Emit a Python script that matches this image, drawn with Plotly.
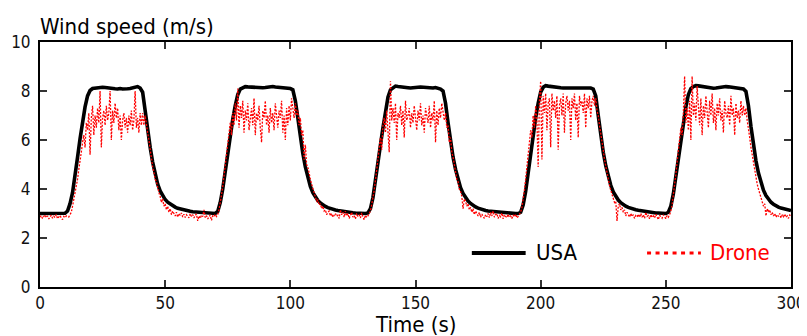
import numpy as np
import plotly.graph_objects as go

# ---------------- data ----------------
# USA anemometer, 1 s resolution, t = 0 .. 300 s
usa_c1 = [3.00, 3.00, 3.00, 3.00, 3.00, 3.00, 3.00, 3.00, 3.00, 3.00, 3.01,
          3.10, 3.40, 3.85, 4.50, 5.30, 6.05, 6.75, 7.35, 7.80, 8.02, 8.10,
          8.12, 8.14, 8.13, 8.15, 8.14, 8.12, 8.13, 8.10, 8.09, 8.08, 8.10, 8.08, 8.07, 8.09, 8.10, 8.12, 8.16, 8.18, 8.12,
          7.95, 7.20, 6.40, 5.70, 5.10, 4.60, 4.20, 3.92, 3.72, 3.57, 3.46, 3.38, 3.31, 3.26, 3.21, 3.18, 3.15, 3.13, 3.11]
usa_c2 = [3.09, 3.07, 3.06, 3.05, 3.04, 3.03, 3.02, 3.02, 3.01, 3.01, 3.00,
          3.08, 3.45, 4.00, 4.75, 5.50, 6.20, 6.85, 7.40, 7.85, 8.08, 8.15,
          8.18, 8.17, 8.16, 8.15, 8.14, 8.16, 8.15, 8.13, 8.14, 8.16, 8.17, 8.18, 8.16, 8.15, 8.17, 8.14, 8.13, 8.12, 8.10, 8.05,
          7.60, 6.90, 6.10, 5.45, 4.90, 4.45, 4.10, 3.85, 3.67, 3.53, 3.43, 3.35, 3.29, 3.24, 3.20, 3.17, 3.14, 3.12]
usa_c3 = [3.10, 3.08, 3.06, 3.05, 3.04, 3.03, 3.02, 3.01, 3.00, 3.00, 3.00,
          3.02, 3.20, 3.65, 4.30, 5.10, 5.80, 6.50, 7.20, 7.75, 8.05, 8.15,
          8.20, 8.18, 8.16, 8.15, 8.14, 8.13, 8.12, 8.12, 8.14, 8.15, 8.16, 8.15, 8.13, 8.12, 8.11, 8.12, 8.14, 8.12, 8.08, 8.00,
          7.50, 6.70, 5.95, 5.30, 4.80, 4.38, 4.05, 3.82, 3.64, 3.51, 3.41, 3.33, 3.27, 3.22, 3.18, 3.15, 3.12, 3.10]
usa_c4 = [3.09, 3.07, 3.05, 3.04, 3.03, 3.02, 3.01, 3.01, 3.00, 3.00, 3.00,
          3.00, 3.05, 3.35, 3.90, 4.65, 5.45, 6.20, 6.90, 7.50, 7.95, 8.15,
          8.22, 8.20, 8.18, 8.17, 8.15, 8.14, 8.13, 8.12, 8.12, 8.13, 8.14, 8.13, 8.12, 8.12, 8.13, 8.14, 8.15, 8.14, 8.12, 8.08,
          7.80, 7.00, 6.20, 5.50, 4.95, 4.50, 4.15, 3.88, 3.69, 3.55, 3.44, 3.36, 3.30, 3.25, 3.21, 3.18, 3.15, 3.13]
usa_c5 = [3.11, 3.09, 3.07, 3.05, 3.04, 3.03, 3.02, 3.02, 3.01, 3.01, 3.00,
          3.05, 3.30, 3.80, 4.50, 5.30, 6.05, 6.75, 7.35, 7.85, 8.10, 8.18,
          8.22, 8.21, 8.19, 8.17, 8.15, 8.13, 8.12, 8.11, 8.12, 8.14, 8.16, 8.17, 8.18, 8.17, 8.16, 8.15, 8.14, 8.13, 8.12, 8.08, 7.98,
          7.40, 6.55, 5.80, 5.15, 4.65, 4.25, 3.95, 3.73, 3.57, 3.46, 3.38, 3.31, 3.26, 3.22, 3.19, 3.16, 3.14, 3.12]

# Drone, 0.5 s resolution, t = 0 .. 300 s
drone_c1 = [2.85, 2.92, 2.80, 2.88, 2.95, 2.83, 2.90, 2.78, 2.86, 2.93, 2.81, 2.89, 2.84, 2.96, 2.79, 2.87, 2.92, 2.82, 2.75, 2.88, 2.83, 2.90,
            2.90, 2.86, 2.98, 3.05, 3.30, 3.55, 3.80, 4.10, 4.40, 4.80, 5.10, 5.50, 5.90, 6.20, 5.70, 6.70,
            6.4, 7.1, 5.4, 6.9, 7.4, 6.2, 7.0, 6.5, 7.3, 6.7, 8.0, 5.7, 6.9, 7.2, 6.6, 7.4, 6.8, 7.1, 8.0, 6.0,
            7.2, 6.7, 7.5, 6.9, 7.3, 6.4, 7.0, 6.0, 6.8, 7.1, 6.5, 6.9, 6.3, 7.0, 6.6, 7.2, 6.4, 6.8, 8.0, 6.5,
            6.9, 6.3, 7.1, 6.6,
            7.1, 6.6, 7.0, 6.5, 6.3, 6.0, 5.6, 5.3, 4.9, 4.7, 4.4, 4.3, 4.0, 3.85, 3.7, 3.45, 3.6, 3.3, 3.4, 3.15,
            3.3, 3.05, 3.2, 2.95, 3.1, 3.0, 2.9, 3.05, 2.85, 3.0, 2.92, 3.02, 2.86, 2.97, 2.84, 2.95, 2.88, 2.82]
drone_c2 = [3.00, 2.88, 2.95, 2.82, 2.92, 2.98, 2.70, 2.90, 2.80, 2.93, 2.87, 3.15, 2.83, 2.91, 2.78, 2.89, 2.94, 2.72, 2.90, 2.86, 2.97, 2.88,
            2.95, 3.15, 3.40, 3.75, 4.10, 4.50, 4.90, 5.40, 5.80, 6.30, 6.70, 6.20, 7.10, 6.60, 7.50, 6.80,
            8.1, 6.5, 7.4, 6.9, 7.6, 6.3, 7.2, 6.8, 7.5, 6.4, 7.0, 7.3, 6.6, 7.7, 6.2, 7.1, 6.8, 7.4, 6.5, 5.9,
            7.2, 6.9, 7.6, 6.6, 7.0, 6.3, 7.3, 6.7, 7.1, 6.4, 7.5, 6.8, 6.5, 7.2, 6.9, 7.6, 6.3, 7.0, 6.0, 7.3,
            6.6, 7.4, 6.8, 7.7,
            7.3, 6.9, 7.5, 7.0, 7.2, 6.6, 6.9, 6.2, 6.4, 5.2, 5.8, 5.0, 4.9, 4.6, 4.4, 4.2, 4.0, 3.8, 3.7, 3.5,
            3.55, 3.35, 3.4, 3.2, 3.3, 3.1, 3.15, 2.95, 3.05, 3.1, 2.9, 3.0, 2.85, 2.95, 3.0, 2.88, 2.93, 2.8]
drone_c3 = [3.15, 2.95, 3.05, 2.85, 3.10, 2.90, 3.00, 2.80, 2.95, 3.05, 2.85, 2.92, 2.78, 3.00, 2.88, 2.95, 2.82, 3.02, 2.86, 2.75, 2.93, 2.84,
            2.90, 2.98, 3.10, 3.35, 3.60, 3.95, 4.35, 4.80, 5.25, 5.70, 6.10, 5.60, 6.60, 6.90, 6.30, 7.20,
            6.5, 5.5, 8.4, 6.8, 7.3, 6.7, 7.5, 6.0, 7.1, 6.9, 7.4, 6.6, 7.2, 6.1, 7.6, 6.8, 7.0, 7.3, 6.5, 7.1,
            6.7, 7.4, 6.9, 6.4, 7.2, 6.8, 7.5, 6.6, 7.0, 6.3, 7.3, 6.9, 6.7, 7.4, 6.5, 7.1, 6.8, 7.6, 5.9, 7.2,
            6.6, 7.3, 6.9, 7.5,
            7.2, 6.8, 7.1, 6.5, 6.6, 5.9, 6.1, 5.5, 5.3, 4.9, 4.7, 4.4, 4.3, 4.0, 3.9, 3.7, 3.2, 3.6, 3.5, 3.3,
            3.4, 3.15, 3.25, 3.05, 3.2, 2.95, 3.1, 3.0, 2.9, 3.05, 2.85, 2.98, 2.9, 2.8, 2.95, 2.87, 3.0, 2.83]
drone_c4 = [3.05, 2.90, 3.10, 2.85, 2.95, 3.00, 2.80, 2.92, 2.87, 3.02, 2.78, 2.95, 2.88, 2.83, 2.97, 2.85, 2.90, 2.79, 2.94, 2.86, 2.98, 2.82,
            2.88, 2.95, 3.05, 3.25, 3.55, 3.95, 4.40, 4.90, 5.40, 5.90, 6.40, 6.10, 7.00, 6.50, 7.40, 6.80,
            4.9, 7.6, 8.4, 5.2, 7.8, 7.1, 7.9, 6.4, 7.5, 7.7, 5.7, 7.9, 7.2, 7.6, 6.9, 7.8, 5.6, 7.4, 7.7, 7.0,
            7.9, 6.3, 7.5, 7.8, 7.2, 7.6, 6.0, 7.7, 7.3, 7.9, 6.8, 7.5, 6.1, 7.8, 7.4, 7.6, 7.1, 7.9, 6.5, 7.7,
            7.3, 7.8, 6.9, 7.6,
            7.8, 7.4, 7.7, 7.2, 7.0, 6.6, 6.3, 5.9, 5.6, 5.2, 4.9, 4.6, 4.4, 4.15, 3.95, 3.75, 3.6, 3.45, 3.5, 2.7,
            3.3, 3.4, 3.15, 3.25, 3.05, 3.15, 2.9, 3.05, 2.95, 2.85, 3.0, 2.88, 2.95, 2.8, 2.92, 2.86, 2.97, 2.84]
drone_c5 = [3.00, 2.85, 2.95, 2.80, 3.05, 2.88, 2.92, 2.78, 2.96, 2.84, 2.90, 2.82, 2.97, 2.86, 2.75, 2.93, 2.88, 2.81, 2.95, 2.87, 2.79, 2.92,
            2.85, 2.95, 3.10, 3.35, 3.70, 4.15, 4.60, 5.10, 5.55, 6.00, 6.50, 6.20, 7.10, 8.60, 6.70, 7.30,
            6.4, 7.6, 6.0, 8.6, 7.0, 7.5, 6.8, 8.2, 7.3, 6.6, 7.7, 6.2, 7.4, 6.9, 7.8, 7.1, 6.5, 7.6, 7.0, 7.9,
            6.7, 7.3, 6.4, 7.5, 7.0, 7.7, 6.8, 7.2, 6.3, 7.6, 7.1, 6.9, 7.4, 6.6, 7.8, 7.0, 7.3, 6.2, 7.5, 6.9,
            7.2, 6.7, 7.6, 7.0,
            7.4, 7.0, 7.3, 6.8, 6.5, 6.1, 5.7, 5.4, 5.0, 4.7, 4.4, 4.2, 4.0, 3.8, 3.6, 3.5, 3.3, 3.4, 2.9, 3.2,
            3.05, 3.15, 2.95, 3.05, 2.9, 3.0, 2.85, 2.95, 2.88, 3.0, 2.82, 2.93, 2.87, 2.98, 2.84, 2.9, 2.8, 2.94,
            2.88]

x_ticks = [0, 50, 100, 150, 200, 250, 300]
y_ticks = [0, 2, 4, 6, 8, 10]

usa = usa_c1 + usa_c2 + usa_c3 + usa_c4 + usa_c5
drone = drone_c1 + drone_c2 + drone_c3 + drone_c4 + drone_c5
t_usa = np.arange(len(usa)) * 1.0
t_drone = np.arange(len(drone)) * 0.5

FONT = "DejaVu Sans Condensed, DejaVu Sans, sans-serif"

fig = go.Figure()
fig.add_trace(go.Scatter(x=t_usa, y=usa, mode="lines", name="USA",
                         line=dict(color="black", width=3.6), showlegend=False))
fig.add_trace(go.Scatter(x=t_drone, y=drone, mode="lines", name="Drone",
                         line=dict(color="#ff0000", width=1.3, dash="2px,1.5px"),
                         showlegend=False))

# legend drawn by hand
fig.add_shape(type="line", xref="x", yref="y", x0=172.5, x1=194, y0=1.39, y1=1.39,
              line=dict(color="black", width=4))
fig.add_shape(type="line", xref="x", yref="y", x0=242.5, x1=264, y0=1.39, y1=1.39,
              line=dict(color="#ff0000", width=3, dash="4px,4.5px"))
fig.add_annotation(x=197.5, y=1.39, xref="x", yref="y", text="USA", showarrow=False,
                   xanchor="left", yanchor="middle", font=dict(family=FONT, size=22, color="black"))
fig.add_annotation(x=267, y=1.39, xref="x", yref="y", text="Drone", showarrow=False,
                   xanchor="left", yanchor="middle", font=dict(family=FONT, size=22, color="#ff0000"))

# axis titles
fig.add_annotation(x=0, y=1, xref="paper", yref="paper", text="Wind speed (m/s)", showarrow=False,
                   xanchor="left", yanchor="middle", yshift=16, xshift=-2,
                   font=dict(family=FONT, size=22, color="black"))
fig.add_annotation(x=0.5, y=0, xref="paper", yref="paper", text="Time (s)", showarrow=False,
                   xanchor="center", yanchor="middle", yshift=-37,
                   font=dict(family=FONT, size=22, color="black"))

axis_common = dict(showline=True, linewidth=2, linecolor="black", mirror="ticks",
                   ticks="inside", ticklen=7, tickwidth=1.5, tickcolor="#333",
                   showgrid=False, zeroline=False, automargin=False,
                   tickfont=dict(family=FONT, size=17, color="#111"))
fig.update_xaxes(range=[0, 300], tickvals=x_ticks, ticktext=[str(v) for v in x_ticks], **axis_common)
fig.update_yaxes(range=[0, 10], tickvals=y_ticks, ticktext=[str(v) for v in y_ticks],
                 ticklabelstandoff=4, **axis_common)

# the page body has an 8 px margin, so the figure starts at (8, 8) in the window
fig.update_layout(width=807, height=336, margin=dict(l=32, r=24, t=34, b=57),
                  paper_bgcolor="white", plot_bgcolor="white",
                  font=dict(family=FONT, size=17, color="black"))

fig.write_html("out.html")
